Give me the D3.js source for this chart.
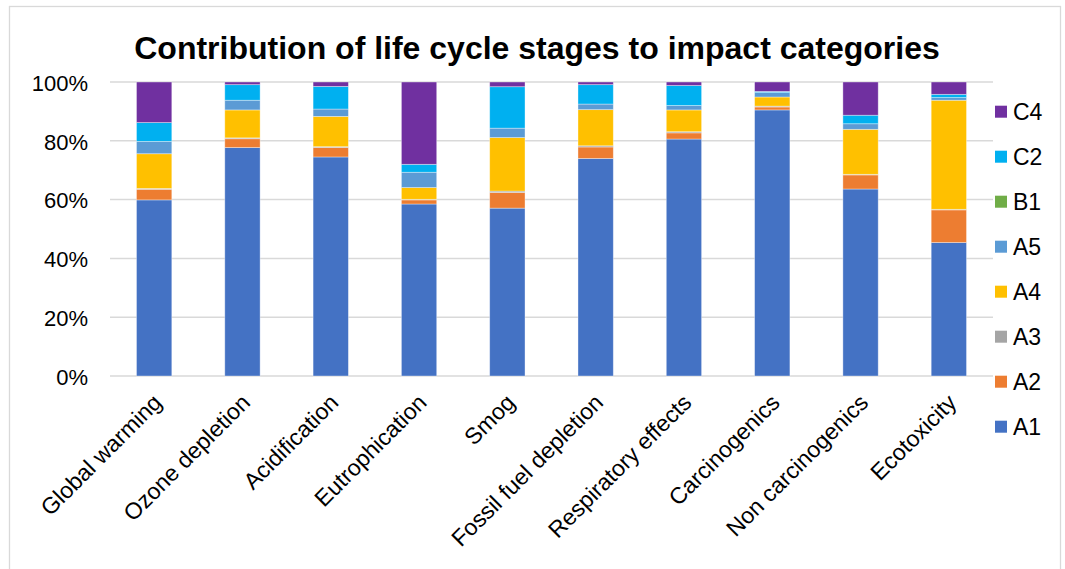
<!DOCTYPE html>
<html>
<head>
<meta charset="utf-8">
<script src="https://cdn.jsdelivr.net/npm/d3@7"></script>
<style>
  body { margin: 0; background: #fff; }
  text { font-family: "Liberation Sans", Arial, sans-serif; fill: #000; }
</style>
</head>
<body>
<script>
// categories and stages
var categories = ['Global warming', 'Ozone depletion', 'Acidification', 'Eutrophication', 'Smog',
  'Fossil fuel depletion', 'Respiratory effects', 'Carcinogenics', 'Non carcinogenics', 'Ecotoxicity'];
var stages = ['A1', 'A2', 'A3', 'A4', 'A5', 'B1', 'C2', 'C4'];

// share of each stage (%), one value per category
var A1 = [59.9, 77.7, 74.5, 58.5, 57.1, 74.0, 80.6, 90.5, 63.6, 45.4];
var A2 = [3.6, 3.0, 3.2, 1.4, 5.3, 3.9, 2.1, 1.0, 4.8, 11.1];
var A3 = [0.3, 0.3, 0.3, 0.2, 0.5, 0.4, 0.4, 0.3, 0.2, 0.2];
var A4 = [11.8, 9.5, 10.3, 4.0, 18.2, 12.3, 7.4, 3.1, 15.3, 37.1];
var A5 = [4.2, 3.3, 2.5, 5.2, 3.2, 1.9, 1.5, 1.5, 1.9, 0.9];
var B1 = [0, 0, 0, 0, 0, 0, 0, 0, 0, 0];
var C2 = [6.4, 5.3, 7.7, 2.7, 14.1, 6.6, 6.8, 0.4, 2.9, 1.1];
var C4 = [13.8, 0.9, 1.5, 28.0, 1.6, 0.9, 1.2, 3.2, 11.3, 4.2];
var yTicks = [0, 20, 40, 60, 80, 100];

var colors = {A1: '#4472C4', A2: '#ED7D31', A3: '#A5A5A5', A4: '#FFC000',
  A5: '#5B9BD5', B1: '#70AD47', C2: '#00B0F0', C4: '#7030A0'};

var series = {A1: A1, A2: A2, A3: A3, A4: A4, A5: A5, B1: B1, C2: C2, C4: C4};
var rows = categories.map(function(c, i) {
  var r = {cat: c};
  stages.forEach(function(s) { r[s] = series[s][i]; });
  return r;
});

var W = 1065, H = 569;
var plotLeft = 110, plotRight = 993, plotTop = 82, plotBottom = 376;

var svg = d3.select('body').append('svg')
  .attr('width', W).attr('height', H);

// chart frame
svg.append('rect')
  .attr('x', 9.5).attr('y', 6.5).attr('width', 1051).attr('height', 580)
  .attr('fill', '#fff').attr('stroke', '#d9d9d9').attr('stroke-width', 1.3);

var x = d3.scaleBand().domain(categories).range([plotLeft, plotRight]).paddingInner(0.6).paddingOuter(0.3);
var y = d3.scaleLinear().domain([0, 100]).range([plotBottom, plotTop]);

// gridlines
svg.append('g').selectAll('line').data(yTicks).enter().append('line')
  .attr('x1', plotLeft).attr('x2', plotRight)
  .attr('y1', function(d) { return y(d); }).attr('y2', function(d) { return y(d); })
  .attr('stroke', '#d9d9d9').attr('stroke-width', 1.5);

// y axis labels
var yAxis = svg.append('g')
  .attr('transform', 'translate(' + plotLeft + ',0)')
  .call(d3.axisLeft(y).tickValues(yTicks).tickSize(0).tickPadding(22).tickFormat(function(d) { return d + '%'; }));
yAxis.select('.domain').remove();
yAxis.selectAll('text').style('font-size', '22px').attr('dy', '0.38em')
  .style('font-family', '"Liberation Sans", Arial, sans-serif').attr('fill', '#000');

// stacked bars
var stack = d3.stack().keys(stages)(rows);
svg.append('g').selectAll('g').data(stack).enter().append('g')
  .attr('fill', function(d) { return colors[d.key]; })
  .selectAll('rect').data(function(d) { return d; }).enter().append('rect')
    .attr('x', function(d) { return x(d.data.cat); })
    .attr('width', x.bandwidth())
    .attr('y', function(d) { return y(d[1]); })
    .attr('height', function(d) { return y(d[0]) - y(d[1]); })
    .attr('stroke', 'rgba(255,255,255,0.45)')
    .attr('stroke-width', 0.8);

// x axis labels
var xAxis = svg.append('g')
  .attr('transform', 'translate(0,' + plotBottom + ')')
  .call(d3.axisBottom(x).tickSize(0).tickPadding(0));
xAxis.select('.domain').remove();
xAxis.selectAll('text')
  .style('font-size', '23px')
  .style('font-family', '"Liberation Sans", Arial, sans-serif')
  .attr('fill', '#000')
  .attr('text-anchor', 'end')
  .attr('dy', '0')
  .attr('transform', 'translate(9,28) rotate(-45)');

// title
svg.append('text').text('Contribution of life cycle stages to impact categories')
  .attr('x', 537).attr('y', 59)
  .attr('text-anchor', 'middle')
  .style('font-size', '32px').style('font-weight', 'bold');

// legend
var legend = svg.append('g').selectAll('g').data(stages.slice().reverse()).enter().append('g')
  .attr('transform', function(d, i) { return 'translate(995,' + (111.7 + i * 45) + ')'; });
legend.append('rect')
  .attr('x', 0).attr('y', -6).attr('width', 12).attr('height', 12)
  .attr('fill', function(d) { return colors[d]; });
legend.append('text')
  .attr('x', 18).attr('dy', '0.36em')
  .style('font-size', '23px')
  .text(function(d) { return d; });
</script>
</body>
</html>
